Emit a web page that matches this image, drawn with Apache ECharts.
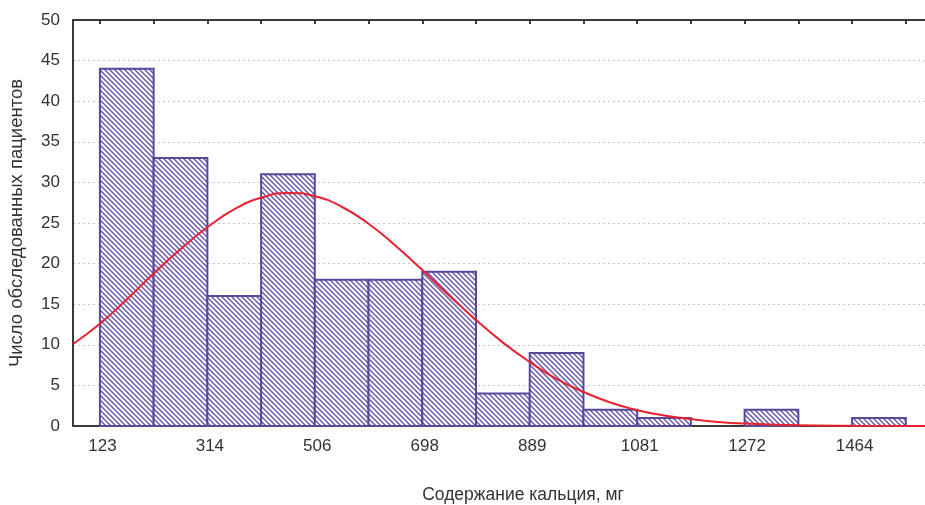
<!DOCTYPE html>
<html>
<head>
<meta charset="utf-8">
<script src="https://cdn.jsdelivr.net/npm/echarts@6/dist/echarts.min.js"></script>
<style>
html,body{margin:0;padding:0;background:#fff;}
#chart{width:925px;height:505px;}
</style>
</head>
<body>
<div id="chart"></div>
<script>
// Histogram bin edges (mg) and counts
const binEdges = [123, 218.8, 314.6, 410.4, 506.1, 601.9, 697.7, 793.5, 889.3, 985.1, 1080.9, 1176.6, 1272.4, 1368.2, 1464.0, 1559.8];
const counts = [44, 33, 16, 31, 18, 18, 19, 4, 9, 2, 1, 0, 2, 0, 1];

// Tick values and their labels on the x axis
const tickValues = [123, 314.6, 506.1, 697.7, 889.3, 1080.9, 1272.4, 1464.0];
const tickLabels = ['123', '314', '506', '698', '889', '1081', '1272', '1464'];

// Fitted normal curve
const curveX = [75, 123, 171, 219, 267, 315, 363, 410, 458, 506, 554, 602, 650, 698, 745, 793, 841, 889, 937, 985, 1033, 1081, 1129, 1177, 1225, 1272, 1368, 1464, 1594];
const curveY = [10.1, 12.6, 15.6, 18.8, 21.8, 24.5, 26.7, 28.1, 28.7, 28.3, 27.0, 24.9, 22.2, 19.2, 16.1, 13.1, 10.3, 7.9, 5.8, 4.2, 2.9, 1.95, 1.3, 0.85, 0.5, 0.3, 0.1, 0.03, 0];

const yMax = 50, yStep = 5;
const xMin = 75, xMax = 1594;

const FONT = '"Liberation Sans", Arial, sans-serif';

// hatch pattern
const pc = document.createElement('canvas');
const S = 5;
pc.width = S; pc.height = S;
const ctx = pc.getContext('2d');
ctx.fillStyle = '#ffffff';
ctx.fillRect(0, 0, S, S);
ctx.strokeStyle = '#6a5ab0';
ctx.lineWidth = 1.5;
ctx.beginPath();
ctx.moveTo(-1, -1); ctx.lineTo(S + 1, S + 1);
ctx.moveTo(-1, S - 1); ctx.lineTo(1, S + 1);
ctx.moveTo(S - 1, -1); ctx.lineTo(S + 1, 1);
ctx.stroke();
const hatch = { image: pc, repeat: 'repeat' };

const barData = counts.map((c, i) => [binEdges[i], binEdges[i + 1], c]);
const curveData = curveX.map((x, i) => [x, curveY[i]]);

const chart = echarts.init(document.getElementById('chart'), null, { renderer: 'canvas' });
chart.setOption({
  animation: false,
  backgroundColor: '#fff',
  grid: { left: 73, right: 0, top: 20, bottom: 79, containLabel: false, outerBoundsMode: 'none' },
  title: {
    text: 'Содержание кальция, мг',
    left: 518, top: 481, textAlign: 'center',
    textStyle: { fontFamily: FONT, fontSize: 17.5, fontWeight: 'normal', color: '#333' }
  },
  xAxis: [{
    type: 'value', min: xMin, max: xMax, position: 'bottom',
    axisLine: { show: true, onZero: false, lineStyle: { color: '#3a3a3a', width: 2 } },
    axisTick: { show: false },
    splitLine: { show: false },
    axisLabel: {
      customValues: tickValues,
      margin: 12,
      padding: [0, 0, 0, 5],
      fontFamily: FONT, fontSize: 17, color: '#333',
      formatter: v => {
        let best = 0;
        tickValues.forEach((t, i) => { if (Math.abs(t - v) < Math.abs(tickValues[best] - v)) best = i; });
        return tickLabels[best];
      }
    }
  }, {
    type: 'value', min: xMin, max: xMax, position: 'top',
    axisLine: { show: true, onZero: false, lineStyle: { color: '#3a3a3a', width: 2 } },
    axisTick: { show: true, inside: true, length: 4, customValues: binEdges, lineStyle: { color: '#3a3a3a', width: 2 } },
    axisLabel: { show: false },
    splitLine: { show: false }
  }],
  yAxis: {
    type: 'value', min: 0, max: yMax, interval: yStep,
    name: 'Число обследованных пациентов',
    nameLocation: 'middle', nameGap: 47, nameRotate: 90,
    nameTextStyle: { fontFamily: FONT, fontSize: 18.5, color: '#333' },
    axisLine: { show: true, lineStyle: { color: '#3a3a3a', width: 2 } },
    axisTick: { show: false },
    axisLabel: { margin: 13, fontFamily: FONT, fontSize: 17, color: '#333' },
    splitLine: { show: true, lineStyle: { color: '#c4c4c4', type: [2, 3], width: 1 } }
  },
  series: [{
    type: 'custom',
    xAxisIndex: 0,
    data: barData,
    encode: { x: [0, 1], y: 2 },
    renderItem: (params, api) => {
      const v = api.value(2);
      if (!v) return null;
      const p0 = api.coord([api.value(0), v]);
      const p1 = api.coord([api.value(1), 0]);
      return {
        type: 'rect',
        shape: { x: p0[0], y: p0[1], width: p1[0] - p0[0], height: p1[1] - p0[1] },
        style: { fill: hatch, stroke: '#5a4899', lineWidth: 2 }
      };
    },
    z: 2
  }, {
    type: 'line',
    xAxisIndex: 0,
    data: curveData,
    smooth: true,
    showSymbol: false,
    lineStyle: { color: '#e8232f', width: 2 },
    z: 3
  }]
});
</script>
</body>
</html>
